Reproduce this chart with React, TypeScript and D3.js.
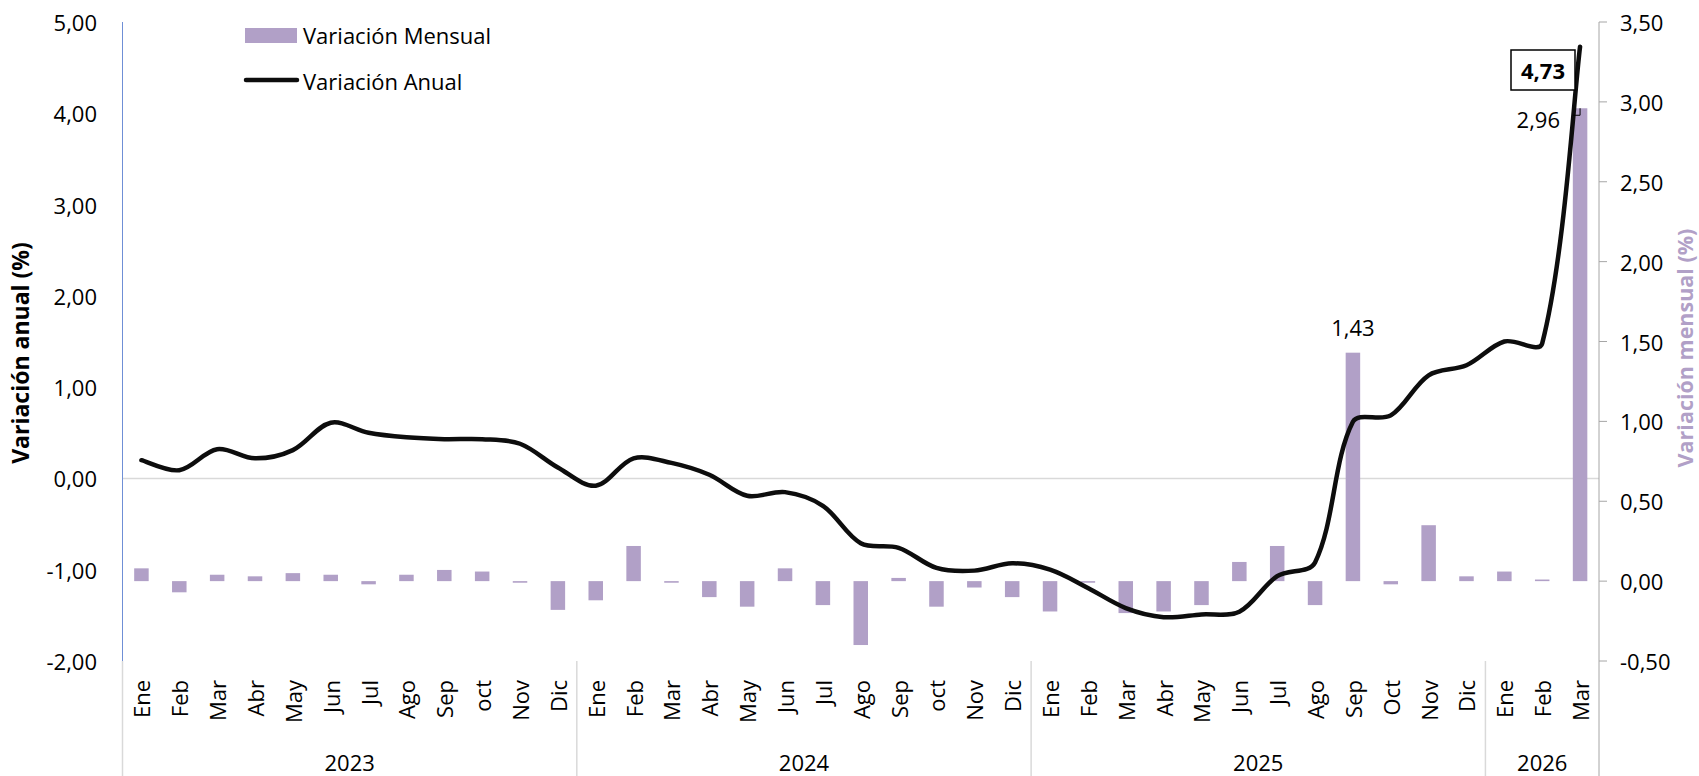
import React from "react";
import * as d3 from "d3";

const months = [
  "Ene","Feb","Mar","Abr","May","Jun","Jul","Ago","Sep","oct","Nov","Dic",
  "Ene","Feb","Mar","Abr","May","Jun","Jul","Ago","Sep","oct","Nov","Dic",
  "Ene","Feb","Mar","Abr","May","Jun","Jul","Ago","Sep","Oct","Nov","Dic",
  "Ene","Feb","Mar",
];
const years = ["2023", "2024", "2025", "2026"];
const yearCounts = [12, 12, 12, 3];

const mensual = [
  0.08, -0.07, 0.04, 0.03, 0.05, 0.04, -0.02, 0.04, 0.07, 0.06, -0.01, -0.18,
  -0.12, 0.22, -0.01, -0.10, -0.16, 0.08, -0.15, -0.40, 0.02, -0.16, -0.04, -0.10,
  -0.19, -0.01, -0.20, -0.19, -0.15, 0.12, 0.22, -0.15, 1.43, -0.02, 0.35, 0.03,
  0.06, 0.01, 2.96,
];
const anual = [
  0.20, 0.09, 0.32, 0.22, 0.31, 0.61, 0.50, 0.45, 0.43, 0.43, 0.38, 0.12,
  -0.08, 0.22, 0.17, 0.04, -0.19, -0.15, -0.30, -0.71, -0.76, -0.98, -1.01, -0.93,
  -1.00, -1.20, -1.42, -1.52, -1.49, -1.46, -1.07, -0.92, 0.62, 0.69, 1.13, 1.24,
  1.50, 1.48, 4.73,
];
const leftTicks = [-2, -1, 0, 1, 2, 3, 4, 5];
const rightTicks = [-0.5, 0, 0.5, 1, 1.5, 2, 2.5, 3, 3.5];
const labeledBars = [32, 38];
const labeledLine = [38];

const W = 1699, H = 776;
const X0 = 122.5, X1 = 1599, YT = 22, YB = 661;
const FONT = "'Open Sans', sans-serif";
const BAR = "#b1a0c7";

// Excel-like smoothing: Bezier with chord-length weighted tangents
function smoothPath(pts: [number, number][]): string {
  const p = d3.path();
  const n = pts.length;
  if (!n) return "";
  const dist = (a: [number, number], b: [number, number]) => Math.hypot(b[0] - a[0], b[1] - a[1]);
  const ctrl = pts.map((pt, i) => {
    const prev = pts[Math.max(0, i - 1)];
    const next = pts[Math.min(n - 1, i + 1)];
    const d1 = i > 0 ? dist(prev, pt) : 0;
    const d2 = i < n - 1 ? dist(pt, next) : 0;
    const tx = next[0] - prev[0], ty = next[1] - prev[1];
    const s = d1 + d2 || 1;
    const f = i === 0 || i === n - 1 ? 1 / 3 : 1 / 3;
    const k1 = i === 0 ? 0 : (d1 / s) * f * (i === n - 1 ? 0.5 : 1);
    const k2 = i === n - 1 ? 0 : (d2 / s) * f * (i === 0 ? 0.5 : 1);
    return {
      inX: pt[0] - tx * k1, inY: pt[1] - ty * k1,
      outX: pt[0] + tx * k2, outY: pt[1] + ty * k2,
    };
  });
  p.moveTo(pts[0][0], pts[0][1]);
  for (let i = 1; i < n; i++) {
    p.bezierCurveTo(ctrl[i - 1].outX, ctrl[i - 1].outY, ctrl[i].inX, ctrl[i].inY, pts[i][0], pts[i][1]);
  }
  return p.toString();
}

export default function App() {
  const idx = months.map((_, i) => i);
  const x = d3.scaleBand<number>().domain(idx).range([X0, X1]).paddingInner(0.617).paddingOuter(0.3085);
  const step = x.step();
  const cx = (i: number) => (x(i) as number) + x.bandwidth() / 2;
  const yL = d3.scaleLinear().domain([-2, 5]).range([YB, YT]);
  const yR = d3.scaleLinear().domain([-0.5, 3.5]).range([YB, YT]);
  const fmt = (v: number) => d3.format(".2f")(v).replace(".", ",").replace("−", "-");

  const linePts: [number, number][] = anual.map((v, i) => [cx(i), yL(v)]);

  const bounds: number[] = [0];
  yearCounts.forEach((c) => bounds.push(bounds[bounds.length - 1] + c));
  const bx = (k: number) => X0 + k * step;

  const last = mensual.length - 1;

  return (
    <svg width={W} height={H} style={{ position: "absolute", left: 0, top: 0, background: "#fff" }} fontFamily={FONT}>
      {/* zero gridline */}
      <line x1={X0} x2={X1} y1={yL(0)} y2={yL(0)} stroke="#d9d9d9" strokeWidth={1.5} />

      {/* bars */}
      {mensual.map((v, i) => (
        <rect key={i} x={x(i)} width={x.bandwidth()} y={Math.min(yR(v), yR(0))}
          height={Math.abs(yR(v) - yR(0))} fill={BAR} />
      ))}

      {/* line */}
      <path d={smoothPath(linePts)} fill="none" stroke="#0d0d0d" strokeWidth={4.5} strokeLinejoin="round" strokeLinecap="round" />

      {/* left axis */}
      <line x1={X0} x2={X0} y1={YT} y2={YB} stroke="#6f8fd6" strokeWidth={1} />
      {leftTicks.map((t) => (
        <text key={t} x={97} y={yL(t)} textAnchor="end" dominantBaseline="central" fontSize={22} fill="#000">{fmt(t)}</text>
      ))}
      <text transform={`translate(20,353) rotate(-90)`} textAnchor="middle" dominantBaseline="central"
        fontSize={23} fontWeight="bold" fill="#000">Variación anual (%)</text>

      {/* right axis */}
      <line x1={X1} x2={X1} y1={YT} y2={H} stroke="#a6a6a6" strokeWidth={1} />
      {rightTicks.map((t) => (
        <g key={t}>
          <line x1={X1} x2={X1 + 8} y1={yR(t)} y2={yR(t)} stroke="#a6a6a6" strokeWidth={1} />
          <text x={1620} y={yR(t)} dominantBaseline="central" fontSize={22} fill="#000">{fmt(t)}</text>
        </g>
      ))}
      <text transform={`translate(1684,348) rotate(-90)`} textAnchor="middle" dominantBaseline="central"
        fontSize={21.5} fontWeight="bold" fill={BAR}>Variación mensual (%)</text>

      {/* category axis */}
      <line x1={X0} x2={X0} y1={YB} y2={H} stroke="#d9d9d9" strokeWidth={1.5} />
      {bounds.slice(1, -1).map((k) => (
        <line key={k} x1={bx(k)} x2={bx(k)} y1={YB} y2={H} stroke="#d9d9d9" strokeWidth={1.5} />
      ))}
      {months.map((m, i) => (
        <text key={i} transform={`translate(${cx(i)},680) rotate(-90)`} textAnchor="end" dominantBaseline="central"
          fontSize={22} fill="#000">{m}</text>
      ))}
      {years.map((yv, k) => (
        <text key={yv} x={(bx(bounds[k]) + bx(bounds[k + 1])) / 2} y={762} textAnchor="middle" dominantBaseline="central"
          fontSize={22} fill="#000">{yv}</text>
      ))}

      {/* data labels */}
      {labeledBars.filter((i) => i !== last).map((i) => (
        <text key={i} x={cx(i)} y={yR(mensual[i]) - 26} textAnchor="middle" dominantBaseline="central" fontSize={22} fill="#000">
          {fmt(mensual[i])}
        </text>
      ))}
      {labeledBars.filter((i) => i === last).map((i) => (
        <g key={i}>
          <text x={1560} y={yR(mensual[i]) + 11} textAnchor="end" dominantBaseline="central" fontSize={22} fill="#000">
            {fmt(mensual[i])}
          </text>
          <path d={`M${x(i)},${yR(mensual[i]) + 7} H${cx(i)} V${yR(mensual[i])}`} fill="none" stroke="#000" strokeWidth={1} />
        </g>
      ))}
      {labeledLine.map((i) => (
        <g key={i}>
          <rect x={1511} y={50} width={64} height={40} fill="#fff" stroke="#000" strokeWidth={1.5} />
          <text x={1543} y={70} textAnchor="middle" dominantBaseline="central" fontSize={22} fontWeight="bold" fill="#000">
            {fmt(anual[i])}
          </text>
        </g>
      ))}

      {/* legend */}
      <rect x={245} y={28} width={52} height={15} fill={BAR} />
      <text x={303} y={35} dominantBaseline="central" fontSize={22} fill="#000">Variación Mensual</text>
      <line x1={246} x2={297} y1={80} y2={80} stroke="#0d0d0d" strokeWidth={4.5} strokeLinecap="round" />
      <text x={303} y={81} dominantBaseline="central" fontSize={22} fill="#000">Variación Anual</text>
    </svg>
  );
}
